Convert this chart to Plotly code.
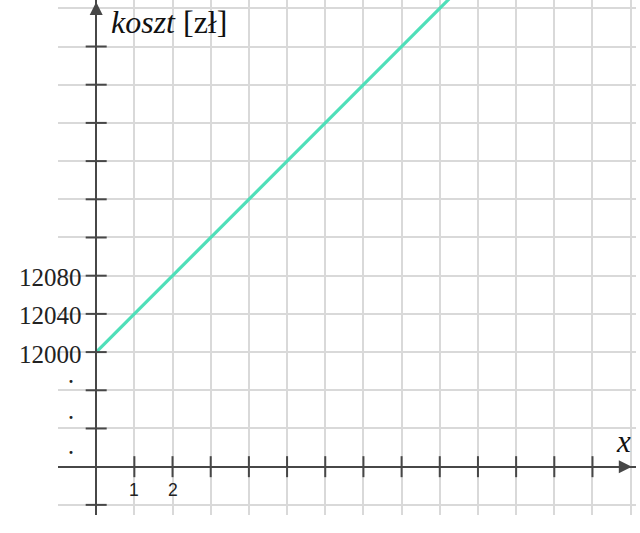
import plotly.graph_objects as go

# ---- data ----
x_vals = [0, 10]
koszt = [12000, 12400]

y_label_vals = [12000, 12040, 12080]
y_label_text = ["12000", "12040", "12080"]
x_label_vals = [1, 2]
x_label_text = ["1", "2"]

x_grid = list(range(-1, 15))
y_grid = [11840 + 40 * i for i in range(14)]
x_ticks = list(range(1, 14))
y_ticks = [v for v in range(11840, 12360, 40) if v != 11880]

X_MIN, X_MAX = -1, 14.14
Y_MIN, Y_MAX = 11829.4, 12368.7
Y_AXIS_AT = 11880
X_AXIS_AT = 0

AX_COL = "#474747"
GRID_COL = "#d9d9d9"
SERIF = "Liberation Serif"

fig = go.Figure()

fig.add_trace(go.Scatter(x=x_vals, y=koszt, mode="lines",
                         line=dict(color="#4fdfb9", width=3.2),
                         hoverinfo="skip"))

# cross ticks
fig.add_trace(go.Scatter(x=x_ticks, y=[Y_AXIS_AT] * len(x_ticks), mode="markers",
                         marker=dict(symbol="line-ns", size=15,
                                     line=dict(color=AX_COL, width=2)),
                         hoverinfo="skip", cliponaxis=False))
fig.add_trace(go.Scatter(x=[X_AXIS_AT] * len(y_ticks), y=y_ticks, mode="markers",
                         marker=dict(symbol="line-ew", size=15,
                                     line=dict(color=AX_COL, width=2)),
                         hoverinfo="skip", cliponaxis=False))
# arrowheads
fig.add_trace(go.Scatter(x=[X_AXIS_AT], y=[12366.6], mode="markers",
                         marker=dict(symbol="arrow-up", size=13, color=AX_COL,
                                     line=dict(width=0)),
                         hoverinfo="skip", cliponaxis=False))
fig.add_trace(go.Scatter(x=[14.03], y=[Y_AXIS_AT], mode="markers",
                         marker=dict(symbol="arrow-right", size=13, color=AX_COL,
                                     line=dict(width=0)),
                         hoverinfo="skip", cliponaxis=False))

annotations = []
for v, t in zip(y_label_vals, y_label_text):
    annotations.append(dict(x=-0.33, y=v, text=t, showarrow=False, xanchor="right",
                            yanchor="middle", yshift=-2,
                            font=dict(family=SERIF, size=25, color="#222")))
for v, t in zip(x_label_vals, x_label_text):
    annotations.append(dict(x=v, y=Y_AXIS_AT, text=t, showarrow=False, xanchor="center",
                            yanchor="middle", yshift=-23,
                            font=dict(family="Liberation Sans", size=17.5, color="#222")))
for yy in [11969.7, 11932.5, 11895.7]:
    annotations.append(dict(x=-0.655, y=yy, text="<b>·</b>", showarrow=False,
                            xanchor="center", yanchor="middle", yshift=-1,
                            font=dict(family=SERIF, size=18, color="#222")))
annotations.append(dict(x=0.33, y=12345.6, text="<i>koszt</i> [zł]", showarrow=False,
                        xanchor="left", yanchor="middle",
                        font=dict(family=SERIF, size=32, color="#111")))
annotations.append(dict(x=13.81, y=11902.7, text="<i>x</i>", showarrow=False,
                        xanchor="center", yanchor="middle", yshift=4,
                        font=dict(family=SERIF, size=31, color="#111")))

fig.update_layout(
    width=640, height=533,
    margin=dict(l=58, r=4, t=0, b=18),
    paper_bgcolor="white", plot_bgcolor="white",
    showlegend=False,
    annotations=annotations,
    xaxis=dict(range=[X_MIN, X_MAX], tickvals=x_grid, showticklabels=False,
               showgrid=True, gridcolor=GRID_COL, gridwidth=1.5, zeroline=False,
               showline=True, linecolor=AX_COL, linewidth=2, ticks="",
               anchor="free", position=(Y_AXIS_AT - Y_MIN) / (Y_MAX - Y_MIN)),
    yaxis=dict(range=[Y_MIN, Y_MAX], tickvals=y_grid, showticklabels=False,
               showgrid=True, gridcolor=GRID_COL, gridwidth=1.5, zeroline=False,
               showline=True, linecolor=AX_COL, linewidth=2, ticks="",
               anchor="free", position=(X_AXIS_AT - X_MIN) / (X_MAX - X_MIN)),
)

fig.write_html("out.html", config={"displayModeBar": False},
               post_script="document.body.style.margin='0';")
